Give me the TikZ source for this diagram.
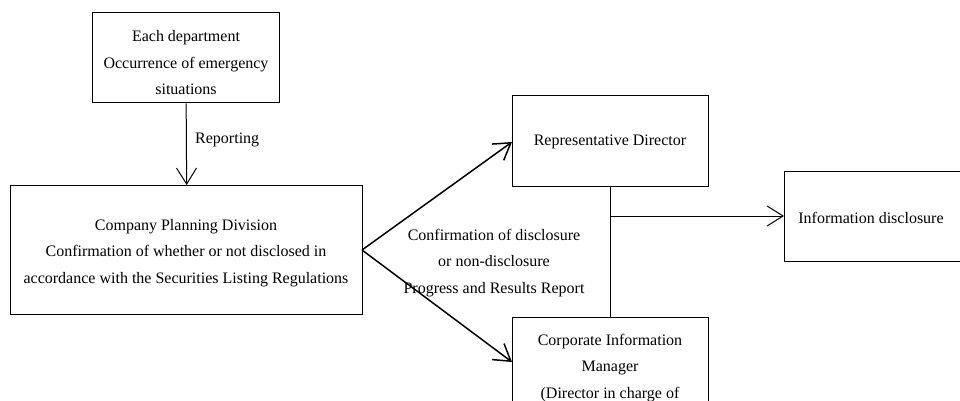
\documentclass[tikz,border=0pt]{standalone}
\usepackage{fontspec}
\setmainfont{Liberation Serif}
\usetikzlibrary{arrows.meta}
\begin{document}
\begin{tikzpicture}[x=1pt,y=-1pt,
  box/.style={draw, line width=1.3pt, inner sep=0pt, anchor=north west},
  txt/.style={align=center, inner sep=0pt, font=\fontsize{16}{26.5}\selectfont},
  conn/.style={line width=1pt, -{Straight Barb[length=16pt,width=20pt,line width=1pt]}},
  diag/.style={line width=1.5pt, -{Straight Barb[length=16pt,width=20pt,line width=1.5pt]}},
  plain/.style={line width=1pt}]
\useasboundingbox (0,0) rectangle (960,401);
\clip (0,0) rectangle (960,401);
% boxes
\node[box, minimum width=187pt, minimum height=90pt] (dept) at (92,12) {};
\node[box, minimum width=352pt, minimum height=129pt] (cpd) at (10,185) {};
\node[box, minimum width=196pt, minimum height=91pt] (rep) at (512,95) {};
\node[box, minimum width=200pt, minimum height=90pt] (info) at (784,171) {};
\node[box, minimum width=196pt, minimum height=130pt] (cim) at (512,317) {};
% texts
\node[txt] (tdept) at (186,63) {Each department\\Occurrence of emergency\\situations};
\node[txt] (tcpd) at (186,253) {Company Planning Division\\Confirmation of whether or not disclosed in\\accordance with the Securities Listing Regulations};
\node[txt] (trep) at (610,142) {Representative Director};
\node[txt] (tinfo) at (871,218) {Information disclosure};
\node[txt] (tcim) at (610,368) {Corporate Information\\Manager\\(Director in charge of};
\node[txt, anchor=west] (trpt) at (195,140) {Reporting};
\node[txt] (tconf) at (494,263) {Confirmation of disclosure\\or non-disclosure\\Progress and Results Report};
% connectors
\draw[conn] (dept.south) -- (cpd.north);
\coordinate (cpdr) at (362,250);
\draw[diag] (cpdr) -- (512,142);
\draw[diag] (cpdr) -- (512,362);
\draw[plain] (rep.south) -- (cim.north);
\coordinate (junc) at (610,216);
\draw[conn] (junc) -- (info.west |- junc);
\end{tikzpicture}
\end{document}
